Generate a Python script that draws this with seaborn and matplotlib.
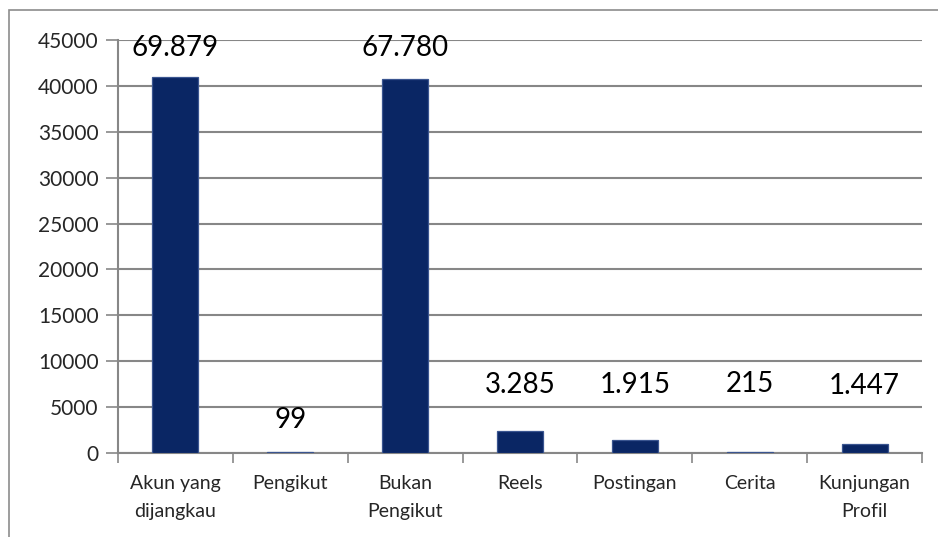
import matplotlib
matplotlib.use('Agg')
import matplotlib.pyplot as plt
import seaborn as sns
import pandas as pd
from matplotlib.patches import Rectangle
from matplotlib.ticker import FixedLocator

# ----------
# data
# ----------
categories = ['Akun yang\ndijangkau', 'Pengikut', 'Bukan\nPengikut', 'Reels',
              'Postingan', 'Cerita', 'Kunjungan\nProfil']
bar_values = [41000, 120, 40800, 2350, 1450, 150, 1000]
label_texts = ['69.879', '99', '67.780', '3.285', '1.915', '215', '1.447']
label_y = [44100, 3600, 44100, 7400, 7400, 7500, 7300]
yticks = list(range(0, 45001, 5000))

df = pd.DataFrame({'kategori': categories, 'nilai': bar_values})

sns.set_style('white')
plt.rcParams['font.family'] = ['Lato', 'DejaVu Sans']

fig = plt.figure(figsize=(9.38, 5.37), dpi=100)
ax = fig.add_axes([118/938, 1 - 453/537, (922-118)/938, (453-40)/537])

sns.barplot(data=df, x='kategori', y='nilai', color='#0a2664', saturation=1, width=0.4,
            edgecolor='#3a5590', linewidth=0.9, ax=ax, zorder=3)

# ----------
# grid + axes look
# ----------
ax.set_ylim(0, 45000)
ax.set_xlim(-0.5, len(categories) - 0.5)
ax.set_yticks(yticks)
ax.set_yticklabels([str(v) for v in yticks], fontsize=15)
ax.yaxis.grid(True, color='#878787', linewidth=1.5, zorder=0)
ax.set_axisbelow(True)
ax.set_xlabel('')
ax.set_ylabel('')
ax.tick_params(axis='y', length=9, width=1.2, color='#878787', pad=5, direction='out', left=True)
ax.tick_params(axis='x', which='major', length=0, pad=16, labelsize=14)
for lbl in ax.get_xticklabels():
    lbl.set_linespacing(1.75)
ax.xaxis.set_minor_locator(FixedLocator([i - 0.5 for i in range(len(categories) + 1)]))
ax.tick_params(axis='x', which='minor', length=7, width=1.2, color='#878787', direction='out', bottom=True)
for side in ['top', 'right']:
    ax.spines[side].set_visible(False)
for side in ['left', 'bottom']:
    ax.spines[side].set_color('#878787')
    ax.spines[side].set_linewidth(1.5)

# ----------
# data labels
# ----------
for i, (t, yy) in enumerate(zip(label_texts, label_y)):
    ax.text(i, yy, t, ha='center', va='center', fontsize=20, color='black')

# outer chart frame
fig.patches.append(Rectangle((9/938, -0.05), 1.2, 1 - 10/537 + 0.05, transform=fig.transFigure,
                             fill=False, edgecolor='#8c8c8c', linewidth=1.2))

fig.savefig('out.png', dpi=100)
